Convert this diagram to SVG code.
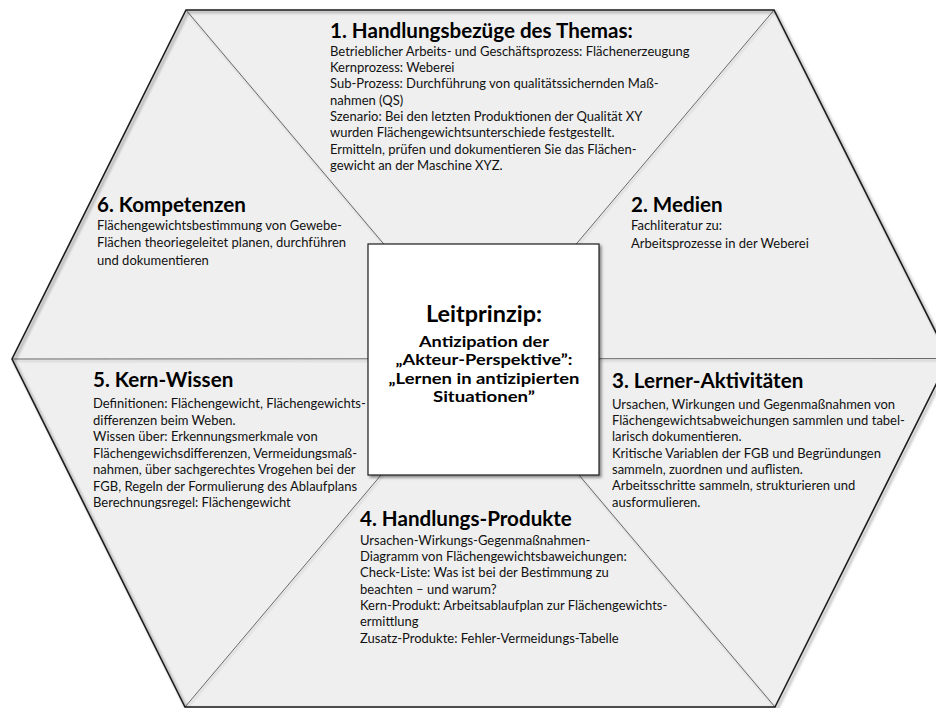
<svg xmlns="http://www.w3.org/2000/svg" width="936" height="708" viewBox="0 0 936 708">
<style>
.t{font-family:Lato,"Liberation Sans",sans-serif;font-weight:bold;font-size:20.6px;fill:#000}
.b{font-family:Lato,"Liberation Sans",sans-serif;font-size:13px;fill:#111}
.c1{font-family:Lato,"Liberation Sans",sans-serif;font-weight:bold;font-size:22px;fill:#000;text-anchor:middle}
.c2{font-family:Lato,"Liberation Sans",sans-serif;font-weight:bold;font-size:14.8px;fill:#000;text-anchor:middle}
.div{stroke:#5a5a5a;stroke-width:0.9;fill:none}
</style>
<defs>
<filter id="sh" x="-5%" y="-5%" width="110%" height="110%">
<feGaussianBlur in="SourceAlpha" stdDeviation="1.5"/>
<feOffset dx="2" dy="2" result="o"/>
<feComponentTransfer><feFuncA type="linear" slope="0.45"/></feComponentTransfer>
<feMerge><feMergeNode/><feMergeNode in="SourceGraphic"/></feMerge>
</filter>
<filter id="sh2" x="-5%" y="-5%" width="110%" height="110%">
<feGaussianBlur in="SourceAlpha" stdDeviation="1"/>
<feOffset dx="1" dy="1.5" result="o"/>
<feComponentTransfer><feFuncA type="linear" slope="0.25"/></feComponentTransfer>
<feMerge><feMergeNode/><feMergeNode in="SourceGraphic"/></feMerge>
</filter>
</defs>
<rect width="936" height="708" fill="#fff"/>
<g id="hexagon">
<polygon points="186,10 774,10 949,358.5 775,707 185,707 12,359" fill="#efefef"/>
</g>
<g id="connectors" filter="url(#sh2)">
<line class="div" x1="186" y1="10" x2="775" y2="707"/>
<line class="div" x1="774" y1="10" x2="185" y2="707"/>
<line class="div" x1="12" y1="359" x2="949" y2="358.5"/>
</g>
<polygon points="186,10 774,10 949,358.5 775,707 185,707 12,359" fill="none" stroke="#1c1c1c" stroke-width="1.6" stroke-linejoin="miter" filter="url(#sh)"/>
<g id="s1">
<text class="t" x="330" y="38">1. Handlungsbezüge des Themas:</text>
<text class="b" x="330" y="55.5">Betrieblicher Arbeits- und Geschäftsprozess: Flächenerzeugung</text>
<text class="b" x="330" y="71.9">Kernprozess: Weberei</text>
<text class="b" x="330" y="88.2">Sub-Prozess: Durchführung von qualitätssichernden Maß-</text>
<text class="b" x="330" y="104.6">nahmen (QS)</text>
<text class="b" x="330" y="120.9">Szenario: Bei den letzten Produktionen der Qualität XY</text>
<text class="b" x="330" y="137.3">wurden Flächengewichtsunterschiede festgestellt.</text>
<text class="b" x="330" y="153.6">Ermitteln, prüfen und dokumentieren Sie das Flächen-</text>
<text class="b" x="330" y="170">gewicht an der Maschine XYZ.</text>
</g>
<g id="s2">
<text class="t" x="631" y="212">2. Medien</text>
<text class="b" x="631" y="230">Fachliteratur zu:</text>
<text class="b" x="631" y="247.5">Arbeitsprozesse in der Weberei</text>
</g>
<g id="s3">
<text class="t" x="612" y="388">3. Lerner-Aktivitäten</text>
<text class="b" x="612" y="408.5">Ursachen, Wirkungen und Gegenmaßnahmen von</text>
<text class="b" x="612" y="424.8">Flächengewichtsabweichungen sammlen und tabel-</text>
<text class="b" x="612" y="441.2">larisch dokumentieren.</text>
<text class="b" x="612" y="457.5">Kritische Variablen der FGB und Begründungen</text>
<text class="b" x="612" y="473.8">sammeln, zuordnen und auflisten.</text>
<text class="b" x="612" y="490.2">Arbeitsschritte sammeln, strukturieren und</text>
<text class="b" x="612" y="506.5">ausformulieren.</text>
</g>
<g id="s4">
<text class="t" x="360" y="526">4. Handlungs-Produkte</text>
<text class="b" x="360" y="544.5">Ursachen-Wirkungs-Gegenmaßnahmen-</text>
<text class="b" x="360" y="560.8">Diagramm von Flächengewichtsbaweichungen:</text>
<text class="b" x="360" y="577.2">Check-Liste: Was ist bei der Bestimmung zu</text>
<text class="b" x="360" y="593.5">beachten – und warum?</text>
<text class="b" x="360" y="609.8">Kern-Produkt: Arbeitsablaufplan zur Flächengewichts-</text>
<text class="b" x="360" y="626.2">ermittlung</text>
<text class="b" x="360" y="642.5">Zusatz-Produkte: Fehler-Vermeidungs-Tabelle</text>
</g>
<g id="s5">
<text class="t" x="93" y="387">5. Kern-Wissen</text>
<text class="b" x="93" y="408">Definitionen: Flächengewicht, Flächengewichts-</text>
<text class="b" x="93" y="424.5">differenzen beim Weben.</text>
<text class="b" x="93" y="441">Wissen über: Erkennungsmerkmale von</text>
<text class="b" x="93" y="457.5">Flächengewichsdifferenzen, Vermeidungsmaß-</text>
<text class="b" x="93" y="474">nahmen, über sachgerechtes Vrogehen bei der</text>
<text class="b" x="93" y="490.5">FGB, Regeln der Formulierung des Ablaufplans</text>
<text class="b" x="93" y="507">Berechnungsregel: Flächengewicht</text>
</g>
<g id="s6">
<text class="t" x="97" y="212">6. Kompetenzen</text>
<text class="b" x="97" y="229.5">Flächengewichtsbestimmung von Gewebe-</text>
<text class="b" x="97" y="247">Flächen theoriegeleitet planen, durchführen</text>
<text class="b" x="97" y="264.5">und dokumentieren</text>
</g>
<g id="center">
<rect x="368" y="244" width="231" height="231" fill="#fff" stroke="#1c1c1c" stroke-width="1.2" filter="url(#sh)"/>
<text class="c1" x="484" y="322" textLength="116" lengthAdjust="spacingAndGlyphs">Leitprinzip:</text>
<text class="c2" x="484" y="347" textLength="130" lengthAdjust="spacingAndGlyphs">Antizipation der</text>
<text class="c2" x="484" y="365.3" textLength="177" lengthAdjust="spacingAndGlyphs">„Akteur-Perspektive”:</text>
<text class="c2" x="484" y="383.6" textLength="191" lengthAdjust="spacingAndGlyphs">„Lernen in antizipierten</text>
<text class="c2" x="484" y="401.9" textLength="102" lengthAdjust="spacingAndGlyphs">Situationen”</text>
</g>
</svg>
